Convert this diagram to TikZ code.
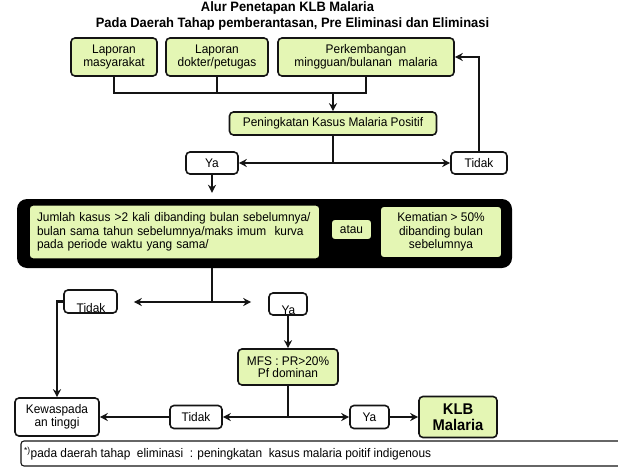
\documentclass[tikz,border=0pt]{standalone}
\usepackage{fontspec}
\setmainfont{Liberation Sans}[FakeStretch=0.95]
\usetikzlibrary{arrows.meta}
\definecolor{gfill}{RGB}{228,246,180}
\definecolor{lcol}{RGB}{20,20,20}
\begin{document}
\begin{tikzpicture}[x=1pt,y=-1pt,
  box/.style={draw=lcol, line width=1.6pt, rounded corners=4pt, inner sep=1pt, align=center, font=\fontsize{12.5}{12.5}\selectfont},
  gbox/.style={box, fill=gfill},
  wbox/.style={box, fill=white},
  lbl/.style={inner sep=0pt, font=\fontsize{12.5}{12.5}\selectfont},
  conn/.style={draw=lcol, line width=2.2pt},
  arr/.style={conn, -{Stealth[length=8pt,width=8pt]}},
  darr/.style={conn, {Stealth[length=8pt,width=8pt]}-{Stealth[length=8pt,width=8pt]}},
  ttl/.style={inner sep=0pt, font=\bfseries\fontsize{13.6}{13.6}\selectfont}
]
\useasboundingbox (0,0) rectangle (618,471);
% titles
\node[ttl] (t1) at (287.5,8) {Alur Penetapan KLB Malaria};
\node[ttl] (t2) at (292.5,24) {Pada Daerah Tahap pemberantasan, Pre Eliminasi dan Eliminasi};
% top row
\node[gbox, minimum width=86, minimum height=38] (b1) at (114,57) {Laporan\\masyarakat};
\node[gbox, minimum width=102, minimum height=38] (b2) at (217,57) {Laporan\\dokter/petugas};
\node[gbox, minimum width=176, minimum height=38] (b3) at (366,57) {Perkembangan\\mingguan/bulanan\ \ malaria};
\node[gbox, minimum width=207, minimum height=23] (pk) at (333,123.5) {Peningkatan Kasus Malaria Positif};
\coordinate (j1) at (333,93);
\draw[conn] (b1.south) -- (b1.south |- j1) -- (b3.south |- j1) -- (b3.south);
\draw[conn] (b2.south) -- (b2.south |- j1);
\draw[arr] (j1) -- (pk.north);
% ya / tidak 1
\node[wbox, minimum width=52, minimum height=22] (ya1) at (212,163) {Ya};
\node[wbox, minimum width=56, minimum height=22] (td1) at (479,163) {Tidak};
\coordinate (j2) at (333,163);
\draw[conn] (pk.south) -- (j2);
\draw[darr] (ya1.east) -- (td1.west);
\draw[arr] (td1.north) |- (b3.east);
% big black box
\node[fill=black, rounded corners=10pt, minimum width=495, minimum height=69, inner sep=0pt] (big) at (264.5,233.5) {};
\draw[arr, shorten >=6pt] (ya1.south) -- (ya1.south |- big.north);
\node[gbox, draw=black, text width=275, inner sep=8pt, minimum height=52, align=left, font=\fontsize{12.5}{13.3}\selectfont] (g1) at (174.5,232) {Jumlah kasus >2 kali dibanding bulan sebelumnya/\\bulan sama tahun sebelumnya/maks imum\ \ kurva\\pada periode waktu yang sama/};
\node[gbox, draw=black, minimum width=41, minimum height=21] (atau) at (351.5,229.5) {atau};
\node[gbox, draw=black, minimum width=122, minimum height=52, font=\fontsize{12.5}{13.3}\selectfont] (g3) at (441,232) {Kematian > 50\%\\dibanding bulan\\sebelumnya};
% second split
\coordinate (j3) at (212,302);
\draw[conn] (j3 |- big.south) -- (j3);
\node[wbox, minimum width=53, minimum height=23] (td2) at (90.5,301.5) {};
\node[lbl] (td2t) at (91,308.5) {Tidak};
\node[wbox, minimum width=38, minimum height=22] (ya2) at (288,304) {};
\node[lbl] (ya2t) at (288.5,310) {Ya};
\draw[darr, shorten <=16pt, shorten >=17pt] (td2.east |- j3) -- (ya2.west |- j3);
\node[wbox, minimum width=84, minimum height=38] (kw) at (57,417) {Kewaspada\\an tinggi};
\draw[arr] (td2.west) -| (kw.north);
\node[gbox, minimum width=100, minimum height=36] (mfs) at (288,367) {MFS : PR>20\%\\Pf dominan};
\draw[arr] (ya2.south) -- (mfs.north);
% bottom row
\coordinate (j4) at (288,417);
\draw[conn] (mfs.south) -- (j4);
\node[wbox, minimum width=52, minimum height=23] (td3) at (196,417) {Tidak};
\node[wbox, minimum width=39, minimum height=23] (ya3) at (369.5,417) {Ya};
\node[gbox, minimum width=78, minimum height=41, font=\bfseries\fontsize{15.5}{15.5}\selectfont] (klb) at (458,417) {KLB\\Malaria};
\draw[arr] (j4) -- (td3.east);
\draw[arr] (j4) -- (ya3.west);
\draw[arr] (td3.west) -- (kw.east);
\draw[arr] (ya3.east) -- (klb.west);
% footnote
\node[draw=lcol, line width=1.1pt, rounded corners=3pt, minimum width=604, minimum height=25, inner sep=0pt] (fn) at (323,453.5) {};
\node[anchor=west, inner sep=0pt, font=\fontsize{12.5}{12.5}\selectfont] (fnt) at (24,453.5) {\textsuperscript{*)}pada daerah tahap\ \ eliminasi\ \ : peningkatan\ \ kasus malaria poitif indigenous};
\end{tikzpicture}
\end{document}
